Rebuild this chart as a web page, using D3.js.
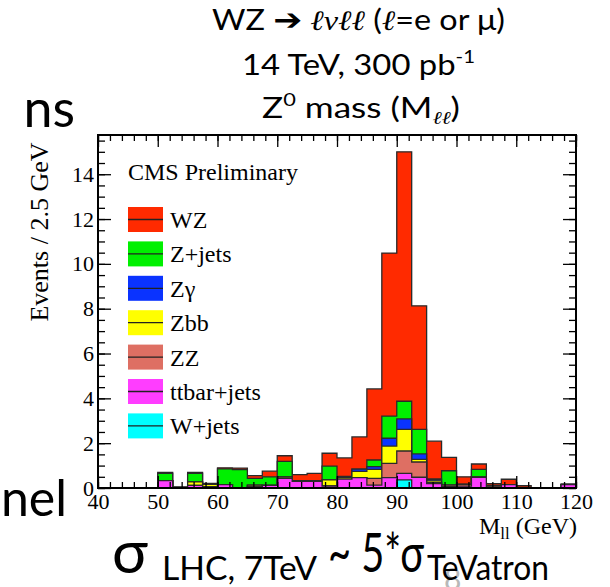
<!DOCTYPE html>
<html>
<head>
<meta charset="utf-8">
<script src="https://cdn.jsdelivr.net/npm/d3@7"></script>
<style>
  body { margin: 0; background: #fff; }
  svg { display: block; font-family: "Liberation Serif", "Times New Roman", serif; }
  .slide { font-family: Lato, "Liberation Sans", sans-serif; }
</style>
</head>
<body>
<svg id="chart" width="610" height="587"></svg>
<script>
// lower edge of each 2.5 GeV bin
const binLow = [40, 42.5, 45, 47.5, 50, 52.5, 55, 57.5, 60, 62.5, 65, 67.5, 70, 72.5, 75, 77.5,
                80, 82.5, 85, 87.5, 90, 92.5, 95, 97.5, 100, 102.5, 105, 107.5, 110, 112.5, 115, 117.5];
const binWidth = 2.5;

// events per bin, one array per sample (bottom of the stack first)
const wjets  = [0, 0, 0, 0, 0, 0, 0, 0, 0, 0, 0, 0, 0, 0, 0, 0,
                0, 0, 0, 0, 0.36, 0, 0, 0, 0, 0, 0, 0, 0, 0, 0, 0];
const ttbar  = [0, 0, 0, 0, 0.33, 0.03, 0.12, 0.06, 0.15, 0.02, 0.05, 0.12, 0.43, 0.30, 0.30, 0.09,
                0.40, 0.46, 0.13, 0.46, 0.29, 0.48, 0.20, 0.06, 0.08, 0.48, 0.05, 0.15, 0, 0, 0, 0.15];
const zz     = [0, 0, 0, 0, 0, 0, 0, 0, 0, 0, 0.03, 0, 0, 0.03, 0.03, 0,
                0, 0, 0.30, 0.64, 1.00, 0.68, 0.04, 0.07, 0.08, 0, 0.06, 0, 0, 0, 0, 0];
const zbb    = [0, 0, 0, 0, 0, 0, 0.15, 0.10, 0, 0, 0.05, 0, 0.06, 0, 0, 0.27,
                0.08, 0.28, 0.40, 0.77, 0.97, 0.12, 0.08, 0, 0, 0, 0, 0, 0, 0, 0, 0];
const zgamma = [0, 0, 0, 0, 0, 0, 0, 0, 0, 0, 0, 0, 0, 0, 0, 0,
                0, 0.10, 0.12, 0.35, 0.46, 0.24, 0.07, 0, 0, 0, 0, 0, 0, 0, 0, 0];
const zjets  = [0, 0, 0, 0, 0.32, 0, 0.38, 0, 0.70, 0.80, 0.30, 0.38, 0.70, 0, 0, 0.62,
                0.04, 0, 0.30, 0.99, 0.79, 1.10, 0, 0.64, 0, 0.35, 0, 0, 0, 0, 0, 0];
const wz     = [0, 0, 0, 0, 0.05, 0, 0.05, 0.05, 0.05, 0.07, 0.12, 0.25, 0.25, 0.27, 0.32, 0.57,
                0.82, 1.44, 3.17, 7.27, 11.13, 5.51, 1.70, 0.60, 0.34, 0.24, 0.08, 0.24, 0.10, 0, 0, 0.03];

const sampleKeys = ["wjets", "ttbar", "zz", "zbb", "zgamma", "zjets", "wz"];
const sampleNames = ["W+jets", "ttbar+jets", "ZZ", "Zbb", "Zγ", "Z+jets", "WZ"];
const sampleColors = ["#00ffff", "#ff3dff", "#de6f63", "#ffff00", "#0a33ff", "#00f000", "#ff2a00"];

const yTickValues = [0, 2, 4, 6, 8, 10, 12, 14];
const xTickValues = [40, 50, 60, 70, 80, 90, 100, 110, 120];

const svg = d3.select("#chart");

const x = d3.scaleLinear().domain([40, 120]).range([98, 576]);
const y = d3.scaleLinear().domain([0, 15.75]).range([488, 135]);

const rows = binLow.map((lo, i) => ({
  lo: lo, wjets: wjets[i], ttbar: ttbar[i], zz: zz[i], zbb: zbb[i],
  zgamma: zgamma[i], zjets: zjets[i], wz: wz[i]
}));
const layers = d3.stack().keys(sampleKeys)(rows);
const color = d3.scaleOrdinal().domain(sampleKeys).range(sampleColors);

const area = d3.area()
  .curve(d3.curveStepAfter)
  .x(d => x(d.x))
  .y0(y(0))
  .y1(d => y(d.v));

// ROOT-style stack: draw cumulative histograms from the largest down
const histG = svg.append("g");
layers.slice().reverse().forEach(layer => {
  const pts = layer.map(d => ({ x: d.data.lo, v: d[1] }));
  const last = binLow[binLow.length - 1] + binWidth;
  pts.push({ x: last, v: layer[layer.length - 1][1] });
  histG.append("path")
    .datum(pts)
    .attr("d", area)
    .attr("fill", color(layer.key))
    .attr("stroke", "#2a2a2a")
    .attr("stroke-width", 1.3)
    .attr("stroke-linejoin", "miter");
});

// axes: ticks on all four sides, pointing inward
const minorY = d3.range(0, 15.76, 0.5);
const minorX = d3.range(40, 120.1, 2);

function styleAxis(g) {
  g.selectAll("line").attr("stroke", "#000").attr("stroke-width", 1.3);
  g.select(".domain").remove();
}

svg.append("g").attr("transform", "translate(98,0)")
  .call(d3.axisLeft(y).tickValues(minorY).tickFormat("").tickSize(-7)).call(styleAxis);
svg.append("g").attr("transform", "translate(98,0)")
  .call(d3.axisLeft(y).tickValues(yTickValues).tickSize(-13).tickPadding(4)).call(styleAxis)
  .selectAll("text").attr("font-size", 22).attr("font-family", "Liberation Serif").attr("fill", "#000");
svg.append("g").attr("transform", "translate(576,0)")
  .call(d3.axisRight(y).tickValues(minorY).tickFormat("").tickSize(-7)).call(styleAxis);
svg.append("g").attr("transform", "translate(576,0)")
  .call(d3.axisRight(y).tickValues(yTickValues).tickFormat("").tickSize(-13)).call(styleAxis);

svg.append("g").attr("transform", "translate(0,488)")
  .call(d3.axisBottom(x).tickValues(minorX).tickFormat("").tickSize(-6)).call(styleAxis);
svg.append("g").attr("transform", "translate(0,488)")
  .call(d3.axisBottom(x).tickValues(xTickValues).tickSize(-12).tickPadding(5)).call(styleAxis)
  .selectAll("text").attr("font-size", 22).attr("font-family", "Liberation Serif").attr("fill", "#000");
svg.append("g").attr("transform", "translate(0,135)")
  .call(d3.axisTop(x).tickValues(minorX).tickFormat("").tickSize(-6)).call(styleAxis);
svg.append("g").attr("transform", "translate(0,135)")
  .call(d3.axisTop(x).tickValues(xTickValues).tickFormat("").tickSize(-12)).call(styleAxis);

// frame
svg.append("rect")
  .attr("x", x(40)).attr("y", y(15.75))
  .attr("width", x(120) - x(40)).attr("height", y(0) - y(15.75))
  .attr("fill", "none").attr("stroke", "#000").attr("stroke-width", 2);

// axis titles
svg.append("text")
  .attr("transform", "translate(48,232) rotate(-90)")
  .attr("text-anchor", "middle")
  .attr("font-size", 26)
  .text("Events / 2.5 GeV");

const xTitle = svg.append("text")
  .attr("x", 577).attr("y", 534)
  .attr("text-anchor", "end")
  .attr("font-size", 24);
xTitle.append("tspan").text("M");
xTitle.append("tspan").attr("font-size", 17).attr("dy", 5).text("ll");
xTitle.append("tspan").attr("dy", -5).text(" (GeV)");

// legend
svg.append("text")
  .attr("x", 128).attr("y", 180)
  .attr("font-size", 24)
  .text("CMS Preliminary");

const legendOrder = sampleKeys.slice().reverse();
const legend = svg.append("g").selectAll("g")
  .data(legendOrder)
  .join("g")
  .attr("transform", (d, i) => `translate(128,${219.5 + i * 34.4})`);
legend.append("rect")
  .attr("x", 0).attr("y", -12.5)
  .attr("width", 35).attr("height", 25)
  .attr("fill", d => color(d));
legend.append("line")
  .attr("x1", 0).attr("x2", 35)
  .attr("stroke", "#222").attr("stroke-width", 1.3);
legend.append("text")
  .attr("x", 42).attr("y", 8.5)
  .attr("font-size", 24)
  .text(d => sampleNames[sampleKeys.indexOf(d)]);

// slide text around the plot
const t1 = svg.append("text").attr("class", "slide")
  .attr("x", 212).attr("y", 30).attr("font-size", 28)
  .attr("textLength", 293).attr("lengthAdjust", "spacingAndGlyphs");
t1.append("tspan").text("WZ ");
t1.append("tspan").attr("font-family", "DejaVu Sans").attr("font-size", 30).text("➔");
t1.append("tspan").attr("font-style", "italic").attr("font-family", "Liberation Serif").text(" ℓνℓℓ   ");
t1.append("tspan").text("(");
t1.append("tspan").attr("font-style", "italic").attr("font-family", "Liberation Serif").text("ℓ");
t1.append("tspan").text("=e or μ)");

const t2 = svg.append("text").attr("class", "slide")
  .attr("x", 242).attr("y", 75).attr("font-size", 29)
  .attr("textLength", 233).attr("lengthAdjust", "spacingAndGlyphs");
t2.append("tspan").text("14 TeV, 300 pb");
t2.append("tspan").attr("font-size", 18).attr("dy", -12).text("-1");

const t3 = svg.append("text").attr("class", "slide")
  .attr("x", 262).attr("y", 118).attr("font-size", 29)
  .attr("textLength", 198).attr("lengthAdjust", "spacingAndGlyphs");
t3.append("tspan").text("Z");
t3.append("tspan").attr("font-size", 18).attr("dy", -12).text("0");
t3.append("tspan").attr("dy", 12).text(" mass (M");
t3.append("tspan").attr("font-size", 18).attr("dy", 6).attr("font-style", "italic")
  .attr("font-family", "Liberation Serif").text("ℓℓ");
t3.append("tspan").attr("dy", -6).text(")");

svg.append("text").attr("class", "slide")
  .attr("x", 75).attr("y", 127).attr("text-anchor", "end").attr("font-size", 52)
  .text("ns");
svg.append("text").attr("class", "slide")
  .attr("x", 67).attr("y", 516).attr("text-anchor", "end").attr("font-size", 50)
  .text("nel");

svg.append("text").attr("class", "slide")
  .attr("x", 112).attr("y", 573).attr("font-size", 60).text("σ");
svg.append("text").attr("class", "slide")
  .attr("x", 162).attr("y", 580).attr("font-size", 32)
  .attr("textLength", 155).attr("lengthAdjust", "spacingAndGlyphs").text("LHC, 7TeV");
svg.append("text").attr("class", "slide")
  .attr("x", 328).attr("y", 572).attr("font-size", 54)
  .attr("textLength", 96).attr("lengthAdjust", "spacingAndGlyphs").text("~ 5*σ");
svg.append("text").attr("class", "slide")
  .attr("x", 444).attr("y", 590).attr("font-size", 30).attr("fill", "#b8b8b8").text("8");
svg.append("text").attr("class", "slide")
  .attr("x", 427).attr("y", 580).attr("font-size", 34)
  .attr("textLength", 122).attr("lengthAdjust", "spacingAndGlyphs").text("TeVatron");
</script>
</body>
</html>
